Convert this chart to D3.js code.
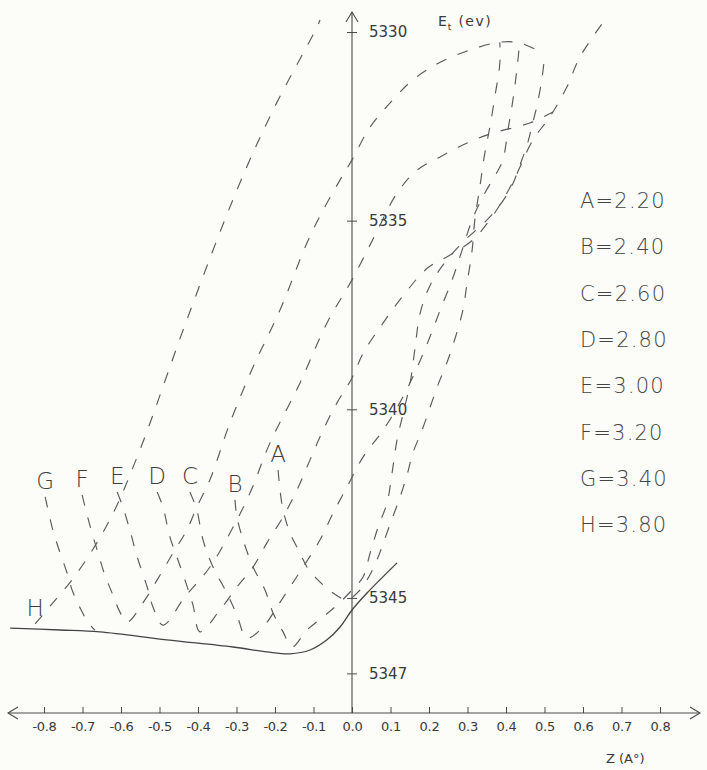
<!DOCTYPE html>
<html><head><meta charset="utf-8">
<script src="https://cdn.jsdelivr.net/npm/d3@7"></script>
<style>
html,body{margin:0;padding:0;background:#fcfcf9;}
svg{display:block;}
</style></head>
<body>
<script>
// ---------- DATA ----------
const zTicks = [-0.8,-0.7,-0.6,-0.5,-0.4,-0.3,-0.2,-0.1,0.0,0.1,0.2,0.3,0.4,0.5,0.6,0.7,0.8];
const zTickLabels = ["-0.8","-0.7","-0.6","-0.5","-0.4","-0.3","-0.2","-0.1","0.0","0.1","0.2","0.3","0.4","0.5","0.6","0.7","0.8"];
const eTicks = [5330,5335,5340,5345,5347];
const eTickLabels = ["5330","5335","5340","5345","5347"];
const curveNames = ["A","B","C","D","E","F","G","H"];
const curveParams = ["2.20","2.40","2.60","2.80","3.00","3.20","3.40","3.80"];

// [Z (A°), Et (eV)]
const curveA = [[-0.192,5341.61],[-0.187,5342.14],[-0.179,5342.67],[-0.161,5343.28],[-0.135,5343.81],[-0.117,5344.18],[-0.083,5344.58],[-0.049,5344.87],[-0.013,5345.05],
  [0.016,5344.84],[0.042,5344.47],[0.065,5343.99],[0.086,5343.41],[0.106,5342.85],[0.125,5342.32],[0.143,5341.74],[0.158,5341.16],[0.182,5340.55],[0.203,5339.94],
  [0.223,5339.36],[0.247,5338.75],[0.268,5338.11],[0.288,5337.37],[0.299,5336.65],[0.312,5335.78],[0.319,5334.98],[0.332,5334.11],[0.345,5333.21],[0.358,5332.52],
  [0.371,5331.72],[0.384,5330.82],[0.384,5330.27]];
const curveB = [[-0.304,5342.40],[-0.299,5342.85],[-0.283,5343.46],[-0.257,5344.18],[-0.226,5344.79],[-0.205,5345.40],[-0.179,5345.90],[-0.156,5346.30],
  [-0.117,5345.85],[-0.075,5345.50],[-0.039,5345.19],[0.000,5344.79],[0.029,5344.44],[0.047,5343.81],[0.068,5343.12],[0.091,5342.48],[0.104,5341.69],[0.117,5340.81],
  [0.135,5340.02],[0.151,5339.30],[0.164,5338.35],[0.177,5337.45],[0.203,5336.71],[0.242,5336.10],[0.294,5335.51],[0.345,5335.04],[0.384,5334.59],[0.416,5334.06],
  [0.436,5333.53],[0.455,5332.99],[0.468,5332.46],[0.481,5331.93],[0.494,5331.19],[0.501,5330.56]];
const curveC = [[-0.421,5342.19],[-0.403,5342.67],[-0.387,5343.46],[-0.361,5344.18],[-0.325,5344.87],[-0.299,5345.45],[-0.273,5346.06],
  [-0.231,5345.77],[-0.195,5345.24],[-0.161,5344.71],[-0.127,5344.18],[-0.083,5343.46],[-0.049,5342.75],[-0.013,5342.06],[0.029,5341.26],[0.081,5340.55],
  [0.125,5339.81],[0.164,5339.01],[0.197,5338.22],[0.229,5337.37],[0.260,5336.57],[0.286,5335.78],[0.312,5334.98],[0.345,5334.27],[0.377,5333.71],[0.392,5333.39],
  [0.405,5332.60],[0.418,5331.80],[0.429,5330.93],[0.436,5330.21]];
const curveD = [[-0.506,5342.19],[-0.491,5342.59],[-0.473,5343.38],[-0.455,5343.91],[-0.434,5344.52],[-0.413,5345.19],[-0.395,5345.90],
  [-0.343,5345.32],[-0.299,5344.71],[-0.257,5344.18],[-0.221,5343.54],[-0.179,5342.85],[-0.143,5342.14],[-0.109,5341.34],[-0.075,5340.55],[-0.039,5339.83],
  [0.000,5339.17],[0.029,5338.51],[0.081,5337.71],[0.138,5336.92],[0.197,5336.25],[0.255,5335.91],[0.314,5335.51],[0.358,5334.98],[0.392,5334.45],[0.423,5333.87],
  [0.470,5332.86],[0.514,5332.25],[0.558,5331.46],[0.592,5330.66],[0.657,5329.68]];
const curveE = [[-0.610,5342.19],[-0.595,5342.59],[-0.577,5343.20],[-0.558,5343.91],[-0.532,5344.71],[-0.517,5345.24],[-0.491,5345.72],
  [-0.434,5344.97],[-0.369,5344.18],[-0.317,5343.28],[-0.265,5342.22],[-0.213,5340.89],[-0.135,5339.30],[-0.065,5337.71],[0.000,5336.57],[0.060,5335.38],
  [0.117,5334.27],[0.169,5333.66],[0.229,5333.31],[0.299,5332.94],[0.366,5332.68],[0.462,5332.41],[0.522,5332.12]];
const curveF = [[-0.701,5342.27],[-0.681,5343.07],[-0.662,5343.73],[-0.642,5344.39],[-0.621,5344.92],[-0.603,5345.37],[-0.584,5345.64],
  [-0.543,5345.13],[-0.506,5344.52],[-0.465,5343.81],[-0.429,5343.20],[-0.403,5342.59],[-0.369,5341.87],[-0.317,5340.36],[-0.257,5338.88],[-0.187,5337.37],
  [-0.117,5335.59],[-0.075,5334.72],[-0.031,5333.92],[0.000,5333.39],[0.047,5332.52],[0.106,5331.80],[0.158,5331.27],[0.229,5330.80],[0.306,5330.48],
  [0.384,5330.27],[0.436,5330.29],[0.496,5330.56]];
const curveG = [[-0.797,5342.32],[-0.777,5343.20],[-0.758,5343.81],[-0.740,5344.34],[-0.727,5344.79],[-0.706,5345.27],[-0.686,5345.64],[-0.668,5345.85]];
const curveH = [[-0.823,5345.69],[-0.777,5345.13],[-0.714,5344.34],[-0.629,5342.93],[-0.551,5341.08],[-0.429,5337.63],[-0.299,5334.19],[-0.205,5332.07],
  [-0.091,5329.87],[-0.083,5329.68]];
const envelope = [[-0.888,5345.80],[-0.758,5345.85],[-0.655,5345.90],[-0.481,5346.11],[-0.309,5346.30],[-0.221,5346.43],[-0.161,5346.48],[-0.109,5346.38],
  [-0.065,5346.11],[-0.031,5345.77],[0.000,5345.32],[0.039,5344.87],[0.117,5344.07]];

const curves = [curveA, curveB, curveC, curveD, curveE, curveF, curveG, curveH];

// ---------- DRAW ----------
const W = 707, H = 770;
const ink = "#4a4a4a";
const font = "'DejaVu Sans', sans-serif";
const svg = d3.select("body").append("svg").attr("width", W).attr("height", H);
svg.append("rect").attr("width", W).attr("height", H).attr("fill", "#fcfcf9");

const x = d3.scaleLinear().domain([-0.8, 0.8]).range([44, 660]);
const y = d3.scaleLinear().domain([5330, 5347]).range([32, 673.4]);
const axisYpos = 713;
const x0 = x(0);

// X axis
const gx = svg.append("g").attr("transform", `translate(0,${axisYpos})`)
  .call(d3.axisBottom(x).tickValues(zTicks).tickFormat((d, i) => zTickLabels[i])
    .tickSizeInner(-6).tickSizeOuter(0).tickPadding(9));
gx.select(".domain").remove();
gx.selectAll(".tick line").attr("stroke", ink);
gx.selectAll(".tick text").attr("font-family", font).attr("font-size", 13).attr("fill", "#3a3a3a").attr("letter-spacing", -0.3);
svg.append("line").attr("x1", 8).attr("x2", 700).attr("y1", axisYpos).attr("y2", axisYpos).attr("stroke", ink).attr("stroke-width", 1.1);
svg.append("path").attr("d", `M18,${axisYpos-6} L8,${axisYpos} L18,${axisYpos+6}`).attr("fill", "none").attr("stroke", ink).attr("stroke-width", 1.1);
svg.append("path").attr("d", `M690,${axisYpos-6} L700,${axisYpos} L690,${axisYpos+6}`).attr("fill", "none").attr("stroke", ink).attr("stroke-width", 1.1);

// Y axis
const gy = svg.append("g").attr("transform", `translate(${x0},0)`)
  .call(d3.axisRight(y).tickValues(eTicks).tickFormat((d, i) => eTickLabels[i])
    .tickSizeInner(5).tickSizeOuter(0).tickPadding(12));
gy.select(".domain").remove();
gy.selectAll(".tick line").attr("x1", -5).attr("stroke", ink);
gy.selectAll(".tick text").attr("font-family", font).attr("font-size", 15).attr("fill", "#3a3a3a");
svg.append("line").attr("x1", x0).attr("x2", x0).attr("y1", 12).attr("y2", axisYpos).attr("stroke", ink).attr("stroke-width", 1.1);
svg.append("path").attr("d", `M${x0-6},22 L${x0},12 L${x0+6},22`).attr("fill", "none").attr("stroke", ink).attr("stroke-width", 1.1);

// axis titles
const et = svg.append("text").attr("x", 438).attr("y", 26).attr("font-family", font).attr("font-size", 14).attr("fill", "#3a3a3a");
et.append("tspan").text("E");
et.append("tspan").attr("font-size", 9).attr("dy", 4).attr("dx", 1).text("t");
et.append("tspan").attr("dy", -4).attr("dx", 7).attr("letter-spacing", 1.5).text("(ev)");
svg.append("text").attr("x", 606).attr("y", 763).attr("font-family", font).attr("font-size", 13).attr("fill", "#3a3a3a").text("Z (A°)");

// curves
const line = d3.line().x(d => x(d[0])).y(d => y(d[1])).curve(d3.curveCatmullRom.alpha(0.5));
svg.append("g").selectAll("path").data(curves).join("path")
  .attr("d", line).attr("fill", "none").attr("stroke", "#5a5a5a")
  .attr("stroke-width", 1.15).attr("stroke-dasharray", "11,12");

svg.append("path").attr("d", line(envelope)).attr("fill", "none").attr("stroke", "#444").attr("stroke-width", 1.3);

// curve labels
svg.append("g").selectAll("text").data(curves).join("text")
  .attr("x", d => x(d[0][0]))
  .attr("y", d => y(d[0][1]) - 8)
  .attr("text-anchor", "middle")
  .attr("font-family", font).attr("font-size", 23).attr("font-weight", 200).attr("fill", "#3f3f3f")
  .text((d, i) => curveNames[i]);

// legend
svg.append("g").selectAll("text").data(curveNames).join("text")
  .attr("x", 580).attr("y", (d, i) => 208 + i * 46.3)
  .attr("font-family", font).attr("font-size", 21).attr("font-weight", 200).attr("letter-spacing", 1.2).attr("fill", "#444")
  .text((d, i) => d + "=" + curveParams[i]);
</script>
</body></html>
